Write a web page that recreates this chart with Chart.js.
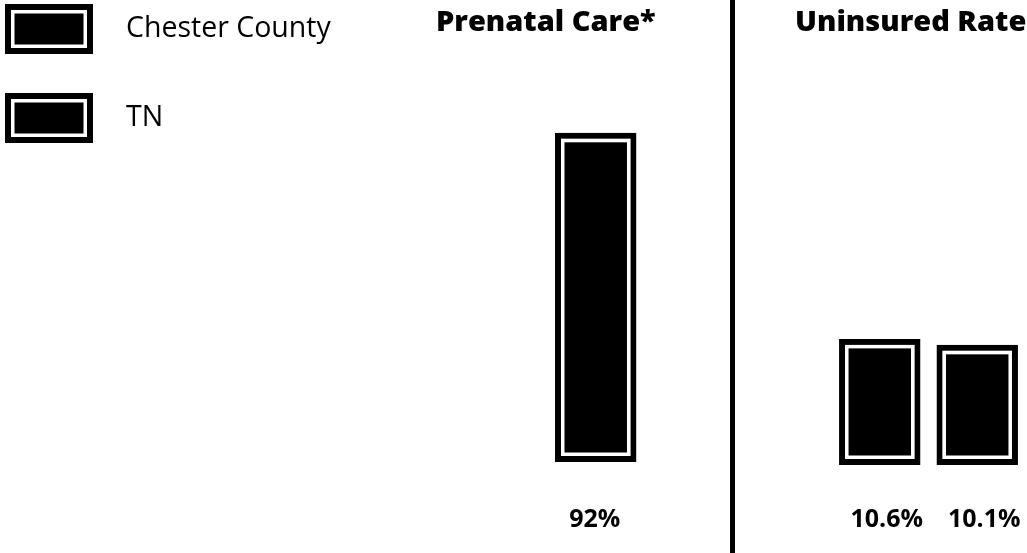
<!DOCTYPE html>
<html><head><meta charset="utf-8">
<script src="https://cdn.jsdelivr.net/npm/chart.js@4"></script>
<style>
html,body{margin:0;padding:0;background:#fff;overflow:hidden;width:1027px;height:553px;position:relative;}
#wa{position:absolute;left:0;top:0;width:730px;height:553px;}
#wb{position:absolute;left:736px;top:0;width:326px;height:553px;}
#sep{position:absolute;left:730px;top:0;width:5px;height:553px;background:#000;}
canvas{display:block;}
</style></head><body>
<div id="wa"><canvas id="ca" width="730" height="553"></canvas></div>
<div id="sep"></div>
<div id="wb"><canvas id="cb" width="326" height="553"></canvas></div>
<script>
// ---- data ----
const seriesNames = ['Chester County', 'TN'];
const prenatalCategories = ['Prenatal Care*'];
const prenatalChester = [null];
const prenatalTN = [92];
const uninsuredCategories = ['Uninsured Rate'];
const uninsuredChester = [10.6];
const uninsuredTN = [10.1];

// ---- plugins ----
const barDeco = {
  id: 'barDeco',
  afterDatasetsDraw(chart, args, opts) {
    const ctx = chart.ctx;
    chart.data.datasets.forEach((ds, i) => {
      const meta = chart.getDatasetMeta(i);
      meta.data.forEach((el, j) => {
        const v = ds.data[j];
        if (v === null || v === undefined) return;
        const p = el.getProps(['x', 'y', 'base', 'width'], true);
        const l = p.x - p.width / 2, r = p.x + p.width / 2;
        const t = Math.min(p.y, p.base), b = Math.max(p.y, p.base);
        const inset = ds.borderWidth + 1.75;
        ctx.save();
        ctx.strokeStyle = '#fff';
        ctx.lineWidth = 3.5;
        ctx.strokeRect(l + inset, t + inset, r - l - 2 * inset, b - t - 2 * inset);
        ctx.fillStyle = '#000';
        ctx.font = '700 25px "Open Sans"';
        ctx.textAlign = 'center';
        ctx.textBaseline = 'middle';
        ctx.fillText(v + '%', p.x + opts.dx, chart.chartArea.bottom + opts.dy);
        ctx.restore();
      });
    });
  }
};

const legendDeco = {
  id: 'legendDeco',
  afterDraw(chart, args, opts) {
    if (!opts.show) return;
    const ctx = chart.ctx;
    chart.data.datasets.forEach((ds, i) => {
      const x = 5, y = 4 + i * 89, w = 88, h = 50;
      ctx.save();
      ctx.fillStyle = '#000';
      ctx.fillRect(x, y, w, h);
      ctx.strokeStyle = '#fff';
      ctx.lineWidth = 3.5;
      ctx.strokeRect(x + 7.75, y + 7.75, w - 15.5, h - 15.5);
      ctx.fillStyle = '#000';
      ctx.font = '400 28.5px "Open Sans"';
      ctx.textBaseline = 'middle';
      ctx.textAlign = 'left';
      ctx.fillText(ds.label, 126, y + h / 2);
      ctx.restore();
    });
  }
};

function barDataset(label, data, catPct) {
  return {
    label: label,
    data: data,
    backgroundColor: '#000',
    borderColor: '#000',
    borderWidth: 6,
    borderSkipped: false,
    inflateAmount: 0,
    categoryPercentage: catPct,
    barPercentage: 0.836
  };
}

function makeChart(id, cats, chester, tn, cfg) {
  return new Chart(document.getElementById(id), {
    type: 'bar',
    data: {
      labels: cats,
      datasets: [barDataset(seriesNames[0], chester, cfg.catPct), barDataset(seriesNames[1], tn, cfg.catPct)]
    },
    options: {
      responsive: false,
      animation: false,
      layout: { padding: cfg.padding },
      scales: {
        x: { display: false },
        y: { display: false, min: 0, max: cfg.max }
      },
      plugins: {
        legend: { display: false },
        tooltip: { enabled: false },
        title: {
          display: true,
          text: cats[0],
          align: 'start',
          color: '#000',
          font: { family: 'Open Sans', weight: '800', size: 29 },
          padding: { top: 5, bottom: 10 }
        },
        barDeco: { dx: cfg.dx, dy: cfg.dy },
        legendDeco: { show: cfg.legend }
      }
    },
    plugins: [barDeco, legendDeco]
  });
}

makeChart('ca', prenatalCategories, prenatalChester, prenatalTN,
  { padding: { left: 436, right: 72, top: 0, bottom: 91 }, catPct: 0.878, max: 115.2, dx: -1, dy: 58, legend: true });
makeChart('cb', uninsuredCategories, uninsuredChester, uninsuredTN,
  { padding: { left: 59, right: 0, top: 0, bottom: 88 }, catPct: 0.730, max: 34.9, dx: 7, dy: 55, legend: false });
</script>
</body></html>
